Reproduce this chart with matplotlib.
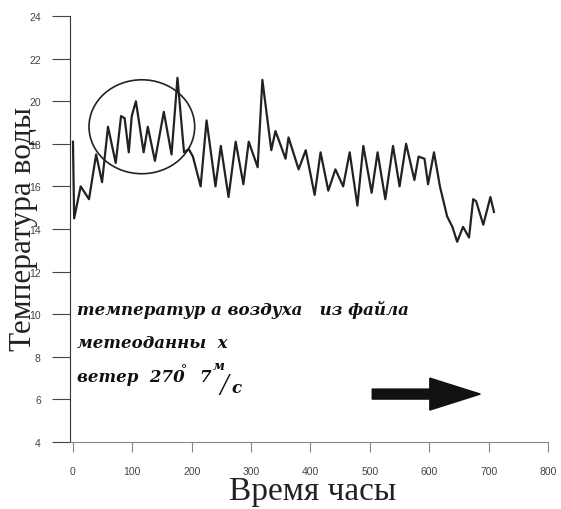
import matplotlib
matplotlib.use("Agg")
import matplotlib.pyplot as plt
from matplotlib.patches import Ellipse, FancyArrow

# Water temperature series (hours, °C)
hours = [0, 2, 13, 27, 39, 49, 59, 72, 81, 87, 94, 99, 106, 119, 126, 138, 153, 166,
         176, 187, 195, 202, 215, 225, 240, 249, 262, 274, 287, 296, 311, 319, 334,
         341, 358, 363, 380, 392, 407, 417, 430, 442, 455, 466, 479, 489, 503, 513,
         526, 539, 550, 561, 575, 582, 592, 598, 608, 618, 630, 639, 647, 657, 667,
         674, 679, 691, 703, 709]
temp = [18.1, 14.5, 16.0, 15.4, 17.5, 16.2, 18.8, 17.1, 19.3, 19.2, 17.6, 19.3, 20.0,
        17.6, 18.8, 17.2, 19.5, 17.5, 21.1, 17.6, 17.75, 17.4, 16.0, 19.1, 16.0, 17.9,
        15.5, 18.1, 16.1, 18.1, 16.9, 21.0, 17.7, 18.6, 17.3, 18.3, 16.8, 17.7, 15.6,
        17.6, 15.8, 16.8, 16.0, 17.6, 15.1, 17.9, 15.7, 17.6, 15.4, 17.9, 16.0, 18.0,
        16.3, 17.4, 17.3, 16.1, 17.6, 16.0, 14.6, 14.1, 13.4, 14.1, 13.6, 15.4, 15.3,
        14.2, 15.5, 14.8]

x_ticks = [0, 100, 200, 300, 400, 500, 600, 700, 800]
y_ticks = [4, 6, 8, 10, 12, 14, 16, 18, 20, 22, 24]

fig = plt.figure(figsize=(5.61, 5.10), dpi=100)
ax = fig.add_axes([70/561, 67/510, 478/561, 426/510])

ax.plot(hours, temp, color="#222222", lw=1.6, solid_joinstyle="round")

ax.set_xlim(-5, 800)
ax.set_ylim(4, 24)
ax.set_xticks(x_ticks)
ax.set_yticks(y_ticks)
for s in ["top", "right"]:
    ax.spines[s].set_visible(False)
ax.spines["left"].set_color("#333333")
ax.spines["bottom"].set_color("#888888")
ax.spines["bottom"].set_linewidth(0.8)
ax.tick_params(axis="y", direction="out", length=13, width=0.8, pad=8,
               labelsize=7.5, labelcolor="#444444", color="#444444")
ax.tick_params(axis="x", direction="out", length=7, width=0.8, pad=10,
               labelsize=7.5, labelcolor="#444444", color="#888888")
for lab in ax.get_xticklabels() + ax.get_yticklabels():
    lab.set_fontfamily("Liberation Sans")

# circle around first peaks
ax.add_patch(Ellipse((116, 18.8), 178, 4.41, fill=False, ec="#222222", lw=1.2))

# wind arrow
ax.add_patch(FancyArrow(504, 6.25, 182, 0, width=0.47, head_width=1.5,
                        head_length=85, length_includes_head=True,
                        color="#111111"))

font = dict(fontfamily=["DejaVu Serif"], fontstyle="italic", fontweight="bold",
            color="#111111", transform=ax.transAxes, va="baseline")
def t(xf, yf, s, size=12):
    ax.text(xf, yf, s, fontsize=size, **font)

t(0.015, 0.300, "температур а воздуха   из файла")
t(0.015, 0.223, "метеоданны  х")
t(0.015, 0.143, "ветер  270")
t(0.232, 0.162, "°", 9)
t(0.27, 0.143, "7")
t(0.298, 0.172, "м", 9)
ax.text(0.312, 0.113, "/", fontsize=22, fontfamily="Liberation Serif",
        fontstyle="italic", color="#111111", transform=ax.transAxes, va="baseline")
t(0.337, 0.118, "с")

fig.text(24/561, 1 - 229/510, "Температура воды", rotation=90, ha="center",
         va="center", fontfamily="Liberation Serif", fontsize=22.5, color="#222222")
fig.text(313/561, 1 - 492/510, "Время часы", ha="center", va="center",
         fontfamily="Liberation Serif", fontsize=24, color="#222222")

fig.savefig("out.png", dpi=100)
